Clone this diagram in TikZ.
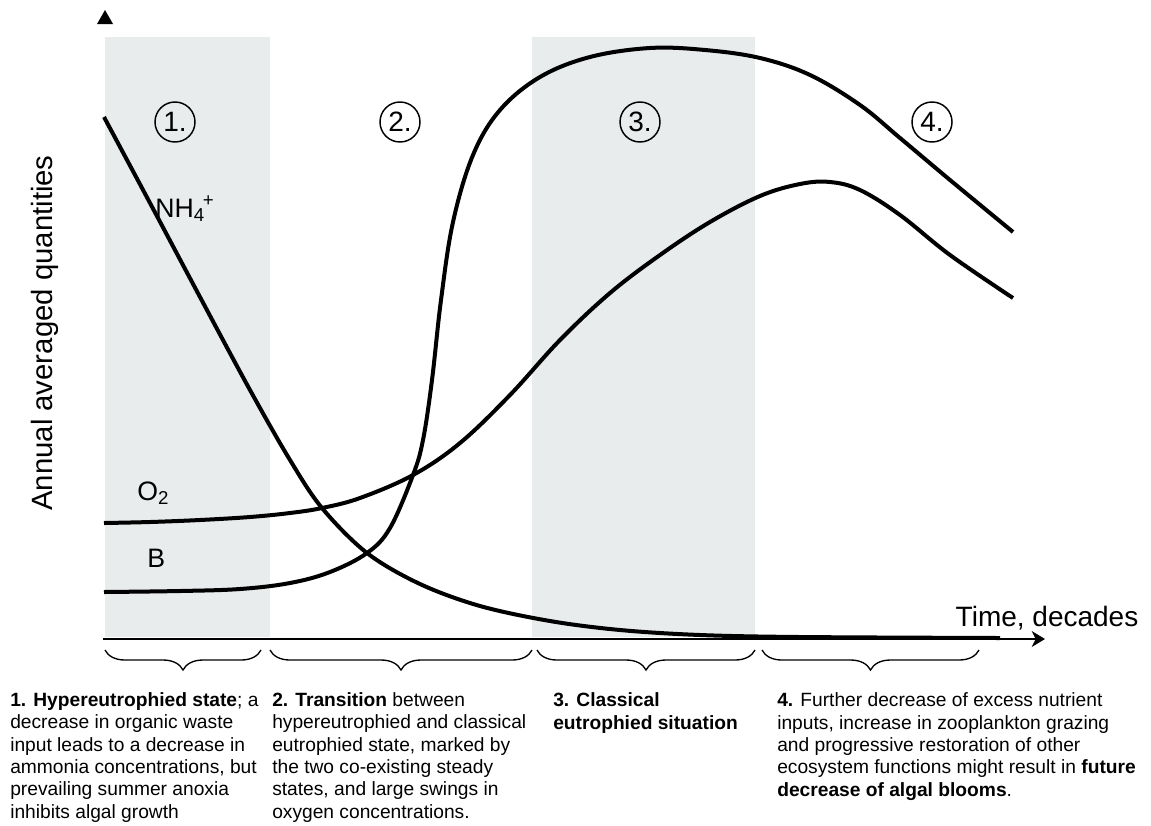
\documentclass[tikz,border=0pt]{standalone}
\usepackage{fontspec}
\setmainfont{Liberation Sans}
\usetikzlibrary{arrows.meta,decorations.pathreplacing}
\definecolor{band}{RGB}{232,236,236}
\begin{document}
\begin{tikzpicture}[x=0.75pt,y=-0.75pt,
  curve/.style={line width=3pt},
  bracebox/.style={decorate,line width=1pt,decoration={brace,mirror,amplitude=15pt}},
  num/.style={circle,draw,line width=1.1pt,minimum size=30pt,inner sep=0pt,font=\fontsize{21}{24}\selectfont},
  lab/.style={inner sep=0pt,anchor=base west,font=\fontsize{20}{24}\selectfont},
  desc/.style={inner sep=0pt,anchor=base west,align=left,font=\fontsize{14.4}{16.7}\selectfont}]
\useasboundingbox (0,0) rectangle (1151,825);
% bands
\fill[band] (105,37) rectangle (270,637);
\fill[band] (532,37) rectangle (755,637);
% axes
\coordinate (ax0) at (103,639);
\coordinate (ax1) at (1045,639);
\draw[line width=1.2pt,-{Stealth[length=10pt,width=12pt,inset=3pt]}] (ax0) -- (ax1);
\fill (97,24) -- (105,10) -- (113,24) -- cycle;
% curves
\draw[curve] plot[smooth,tension=0.55] coordinates{(104,117) (150,203) (200,297) (250,390) (290,460) (322,508) (367,553) (420,584) (480,606) (550,621) (620,630) (700,635) (800,637) (1000,638)};
\draw[curve] plot[smooth,tension=0.6] coordinates{(104,592) (180,591) (240,589) (290,583) (330,572) (367,553) (390,528) (413,475) (423,440) (432,380) (441,300) (453,222) (473,155) (500,110) (540,77) (590,57) (650,48) (705,50) (760,58) (810,75) (860,105) (900,138) (950,180) (1013,232)};
\draw[curve] plot[smooth,tension=0.6] coordinates{(104,523) (150,522) (200,520) (250,517) (290,513) (322,508) (360,498) (413,475) (460,443) (510,395) (560,340) (610,293) (660,255) (710,222) (760,196) (800,184) (830,182) (860,190) (900,215) (950,255) (1013,298)};
% labels
\node[lab] (nh) at (155,217) {NH\textsubscript{4}\kern-1.5pt\textsuperscript{+}};
\node[lab] (o2) at (137,500) {O\textsubscript{2}};
\node[lab] (b) at (147,567) {B};
\node[num] (n1) at (175,122) {1.};
\node[num] (n2) at (400,122) {2.};
\node[num] (n3) at (640,122) {3.};
\node[num] (n4) at (932,122) {4.};
\node[rotate=90,font=\fontsize{22}{26}\selectfont] (ylab) at (45,333) {Annual averaged quantities};
\node[font=\fontsize{21}{25}\selectfont] (xlab) at (1047,618) {Time, decades};
% braces
\draw[bracebox] (105,650) -- (261,650);
\draw[bracebox] (270,650) -- (532,650);
\draw[bracebox] (537,650) -- (755,650);
\draw[bracebox] (762,650) -- (979,650);
% descriptions
\node[desc] (d1) at (10,818) {\textbf{1. Hypereutrophied state}; a\\decrease in organic waste\\input leads to a decrease in\\ammonia concentrations, but\\prevailing summer anoxia\\inhibits algal growth};
\node[desc] (d2) at (272,818) {\textbf{2. Transition} between\\hypereutrophied and classical\\eutrophied state, marked by\\the two co-existing steady\\states, and large swings in\\oxygen concentrations.};
\node[desc] (d3) at (553,729) {\textbf{3. Classical}\\\textbf{eutrophied situation}};
\node[desc] (d4) at (777,796) {\textbf{4.} Further decrease of excess nutrient\\inputs, increase in zooplankton grazing\\and progressive restoration of other\\ecosystem functions might result in \textbf{future}\\\textbf{decrease of algal blooms}.};
\end{tikzpicture}
\end{document}
